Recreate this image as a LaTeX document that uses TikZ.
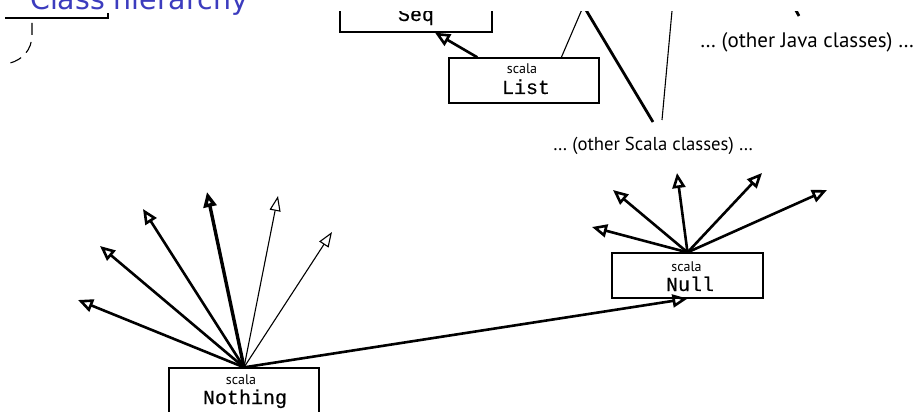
\documentclass[tikz,border=0pt]{standalone}
\usepackage{fontspec}
\setmainfont{PT Sans}
\newfontfamily\titlefont{DejaVu Sans}
\newfontfamily\codefont[FakeBold=0.25]{Liberation Mono}
\usetikzlibrary{arrows.meta,calc}
\definecolor{titleblue}{RGB}{60,60,190}
\begin{document}
\begin{tikzpicture}[x=1pt,y=-1pt,
  classbox/.style={draw, line width=1.3pt, minimum width=150pt, minimum height=45pt, inner sep=0pt},
  pkg/.style={anchor=base, inner sep=0pt, font=\fontsize{14}{14}\selectfont},
  cls/.style={anchor=base, inner sep=0pt, font=\codefont\fontsize{20}{20}\selectfont},
  other/.style={anchor=base west, inner sep=0pt},
  inh/.style={line width=2.6pt, -{Triangle[open, length=15pt, width=13pt]}},
  inhbold/.style={line width=3.4pt, -{Triangle[open, length=15pt, width=13pt]}},
  inhthin/.style={line width=1.1pt, -{Triangle[open, length=15pt, width=11pt]}},
  link/.style={line width=2.8pt},
  linkthin/.style={line width=1.1pt}
]
\useasboundingbox (0,0) rectangle (919,412);
\clip (0,0) rectangle (919,412);

% heading and its bracket
\node[anchor=base west, inner sep=0pt, text=titleblue,
      font=\titlefont\fontsize{28.4}{29}\selectfont] (title) at (30,10) {Class hierarchy};
\draw[line width=1.3pt] (5,18) -- (108,18) -- (108,13);
\draw[line width=1.1pt, dash pattern=on 12pt off 7pt]
  (32,23) -- (32,35) .. controls (32,50) and (22,60) .. (10,63);

% upper part of the hierarchy
\begin{scope}
  \clip (0,12) rectangle (919,412);
  \node[classbox, minimum width=152pt] (seq) at (416,9.5) {};
  \node[cls] (seqname) at (416,21) {Seq};
  \coordinate (anyref1) at (586,0);
  \coordinate (anyref2) at (580,0);
  \coordinate (anyref3) at (673,0);
  \coordinate (javatop) at (793,5);
  \coordinate (javaend) at (799,16);
  \draw[link] (javatop) -- (javaend);
\end{scope}

\node[classbox] (list) at (524,80.5) {};
\node[pkg] (listpkg) at (522,74) {scala};
\node[cls] (listname) at (526,94) {List};

\node[classbox, minimum width=151pt] (null) at (687.5,275.5) {};
\node[pkg] (nullpkg) at (686.5,271) {scala};
\node[cls] (nullname) at (690,291) {Null};

\node[classbox] (nothing) at (244,390.5) {};
\node[pkg] (nothingpkg) at (241,384) {scala};
\node[cls] (nothingname) at (245,404) {Nothing};

\node[other, font=\fontsize{21}{21}\selectfont] (javaother) at (700,48) {… (other Java classes) …};
\node[other, font=\fontsize{18.7}{19}\selectfont] (scalaother) at (553,150) {… (other Scala classes) …};

% List and its neighbours
\draw[inh] ($(list.north west)+(29,0)$) -- ($(seq.south)+(19,0)$);
\coordinate (scalaend1) at (653,122);
\coordinate (scalaend2) at (662,120);
\begin{scope}
  \clip (0,12) rectangle (919,412);
  \draw[linkthin] ($(list.north west)+(113,0)$) -- (anyref1);
  \draw[link] (anyref2) -- (scalaend1);
  \draw[linkthin] (anyref3) -- (scalaend2);
\end{scope}

% Null is a subtype of every reference class
\coordinate (n1) at (592,227);
\coordinate (n2) at (613,190);
\coordinate (n3) at (677,173);
\coordinate (n4) at (762,173);
\coordinate (n5) at (827,190);
\foreach \t in {n1,n2,n3,n4,n5}
  \draw[inh] (null.north) -- (\t);

% Nothing is a subtype of everything
\coordinate (m1) at (78,300);
\coordinate (m2) at (100,246);
\coordinate (m3) at (143,209);
\coordinate (m4) at (207,192);
\coordinate (m5) at (278,196);
\coordinate (m6) at (332,232);
\foreach \t in {m1,m2,m3}
  \draw[inh] (nothing.north) -- (\t);
\draw[inhbold] (nothing.north) -- (m4);
\draw[inhthin] (nothing.north) -- (m5);
\draw[inhthin] (nothing.north) -- (m6);
\draw[inh] (nothing.north) -- (null.south);
\end{tikzpicture}
\end{document}
